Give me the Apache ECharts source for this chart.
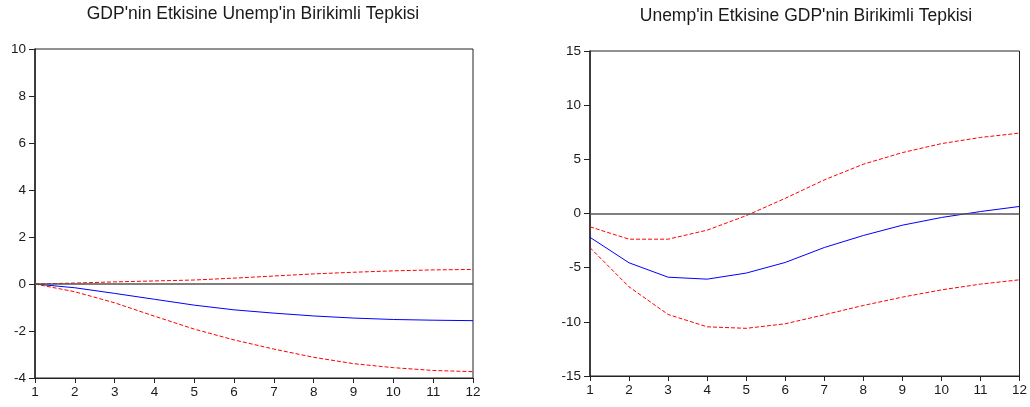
<!DOCTYPE html>
<html>
<head>
<meta charset="utf-8">
<style>
  html, body { margin: 0; padding: 0; background: #fff; }
  #chart { width: 1030px; height: 407px; }
</style>
<script src="https://cdn.jsdelivr.net/npm/echarts@6/dist/echarts.min.js"></script>
</head>
<body>
<div id="chart"></div>
<script>
// Horizon (periods)
const periods = ['1','2','3','4','5','6','7','8','9','10','11','12'];

// Left panel: cumulative response of Unemp to GDP, with ±2 S.E. bands
const leftTitle = "GDP'nin Etkisine Unemp'in Birikimli Tepkisi";
const leftResp  = [0, -0.16, -0.40, -0.65, -0.90, -1.10, -1.24, -1.36, -1.45, -1.51, -1.54, -1.56];
const leftUpper = [0, 0.04, 0.09, 0.13, 0.17, 0.25, 0.34, 0.43, 0.50, 0.56, 0.60, 0.62];
const leftLower = [0, -0.33, -0.80, -1.37, -1.92, -2.38, -2.77, -3.12, -3.39, -3.56, -3.68, -3.73];

// Right panel: cumulative response of GDP to Unemp, with ±2 S.E. bands
const rightTitle = "Unemp'in Etkisine GDP'nin Birikimli Tepkisi";
const rightResp  = [-2.2, -4.55, -5.88, -6.06, -5.5, -4.52, -3.14, -2.03, -1.08, -0.37, 0.18, 0.65];
const rightUpper = [-1.23, -2.37, -2.37, -1.54, -0.2, 1.4, 3.1, 4.55, 5.62, 6.45, 7.02, 7.42];
const rightLower = [-3.15, -6.77, -9.32, -10.46, -10.6, -10.18, -9.35, -8.49, -7.72, -7.05, -6.52, -6.12];

// Axis ranges
const leftY  = { min: -4,  max: 10, interval: 2 };
const rightY = { min: -15, max: 15, interval: 5 };

const FONT = 'Liberation Sans';
const textColor = '#1a1a1a';

function xAxisFor(gridIndex) {
  return {
    type: 'category', gridIndex, data: periods, boundaryGap: false,
    axisLine: { show: true, onZero: false, lineStyle: { color: '#222', width: 1.2 } },
    axisTick: { show: true, inside: false, length: 5, alignWithLabel: true, lineStyle: { color: '#222' } },
    axisLabel: { color: textColor, fontSize: 13.5, fontFamily: FONT, margin: 7, interval: 0 },
    splitLine: { show: false }
  };
}
function yAxisFor(gridIndex, r) {
  return {
    type: 'value', gridIndex, min: r.min, max: r.max, interval: r.interval,
    axisLine: { show: true, lineStyle: { color: '#222', width: 1.5 } },
    axisTick: { show: true, inside: false, length: 6, lineStyle: { color: '#222' } },
    axisLabel: { color: textColor, fontSize: 13.5, fontFamily: FONT, margin: 9 },
    splitLine: { show: false }
  };
}
function respSeries(idx, data) {
  return {
    type: 'line', xAxisIndex: idx, yAxisIndex: idx, data,
    symbol: 'none', silent: true, z: 3,
    lineStyle: { color: '#0000ff', width: 1 },
    markLine: {
      silent: true, symbol: 'none', label: { show: false },
      lineStyle: { color: '#555', width: 1.5, type: 'solid' },
      data: [{ yAxis: 0 }]
    }
  };
}
function bandSeries(idx, data) {
  return {
    type: 'line', xAxisIndex: idx, yAxisIndex: idx, data,
    symbol: 'none', silent: true, z: 4,
    lineStyle: { color: '#ff0000', width: 1, type: [4, 2] }
  };
}

const chart = echarts.init(document.getElementById('chart'), null, { renderer: 'canvas' });
chart.setOption({
  animation: false,
  backgroundColor: '#fff',
  title: [
    { text: leftTitle, left: 253, top: 5, textAlign: 'center', padding: 0,
      textStyle: { fontFamily: FONT, fontSize: 17.5, fontWeight: 'normal', color: textColor } },
    { text: rightTitle, left: 806, top: 7, textAlign: 'center', padding: 0,
      textStyle: { fontFamily: FONT, fontSize: 17.5, fontWeight: 'normal', color: textColor } }
  ],
  grid: [
    { left: 35, right: 557, top: 49, bottom: 29, show: true, borderColor: '#222', borderWidth: 1, backgroundColor: 'transparent' },
    { left: 590, right: 6, top: 51, bottom: 31, show: true, borderColor: '#222', borderWidth: 1, backgroundColor: 'transparent' }
  ],
  xAxis: [xAxisFor(0), xAxisFor(1)],
  yAxis: [yAxisFor(0, leftY), yAxisFor(1, rightY)],
  series: [
    respSeries(0, leftResp), bandSeries(0, leftUpper), bandSeries(0, leftLower),
    respSeries(1, rightResp), bandSeries(1, rightUpper), bandSeries(1, rightLower)
  ]
});
</script>
</body>
</html>
